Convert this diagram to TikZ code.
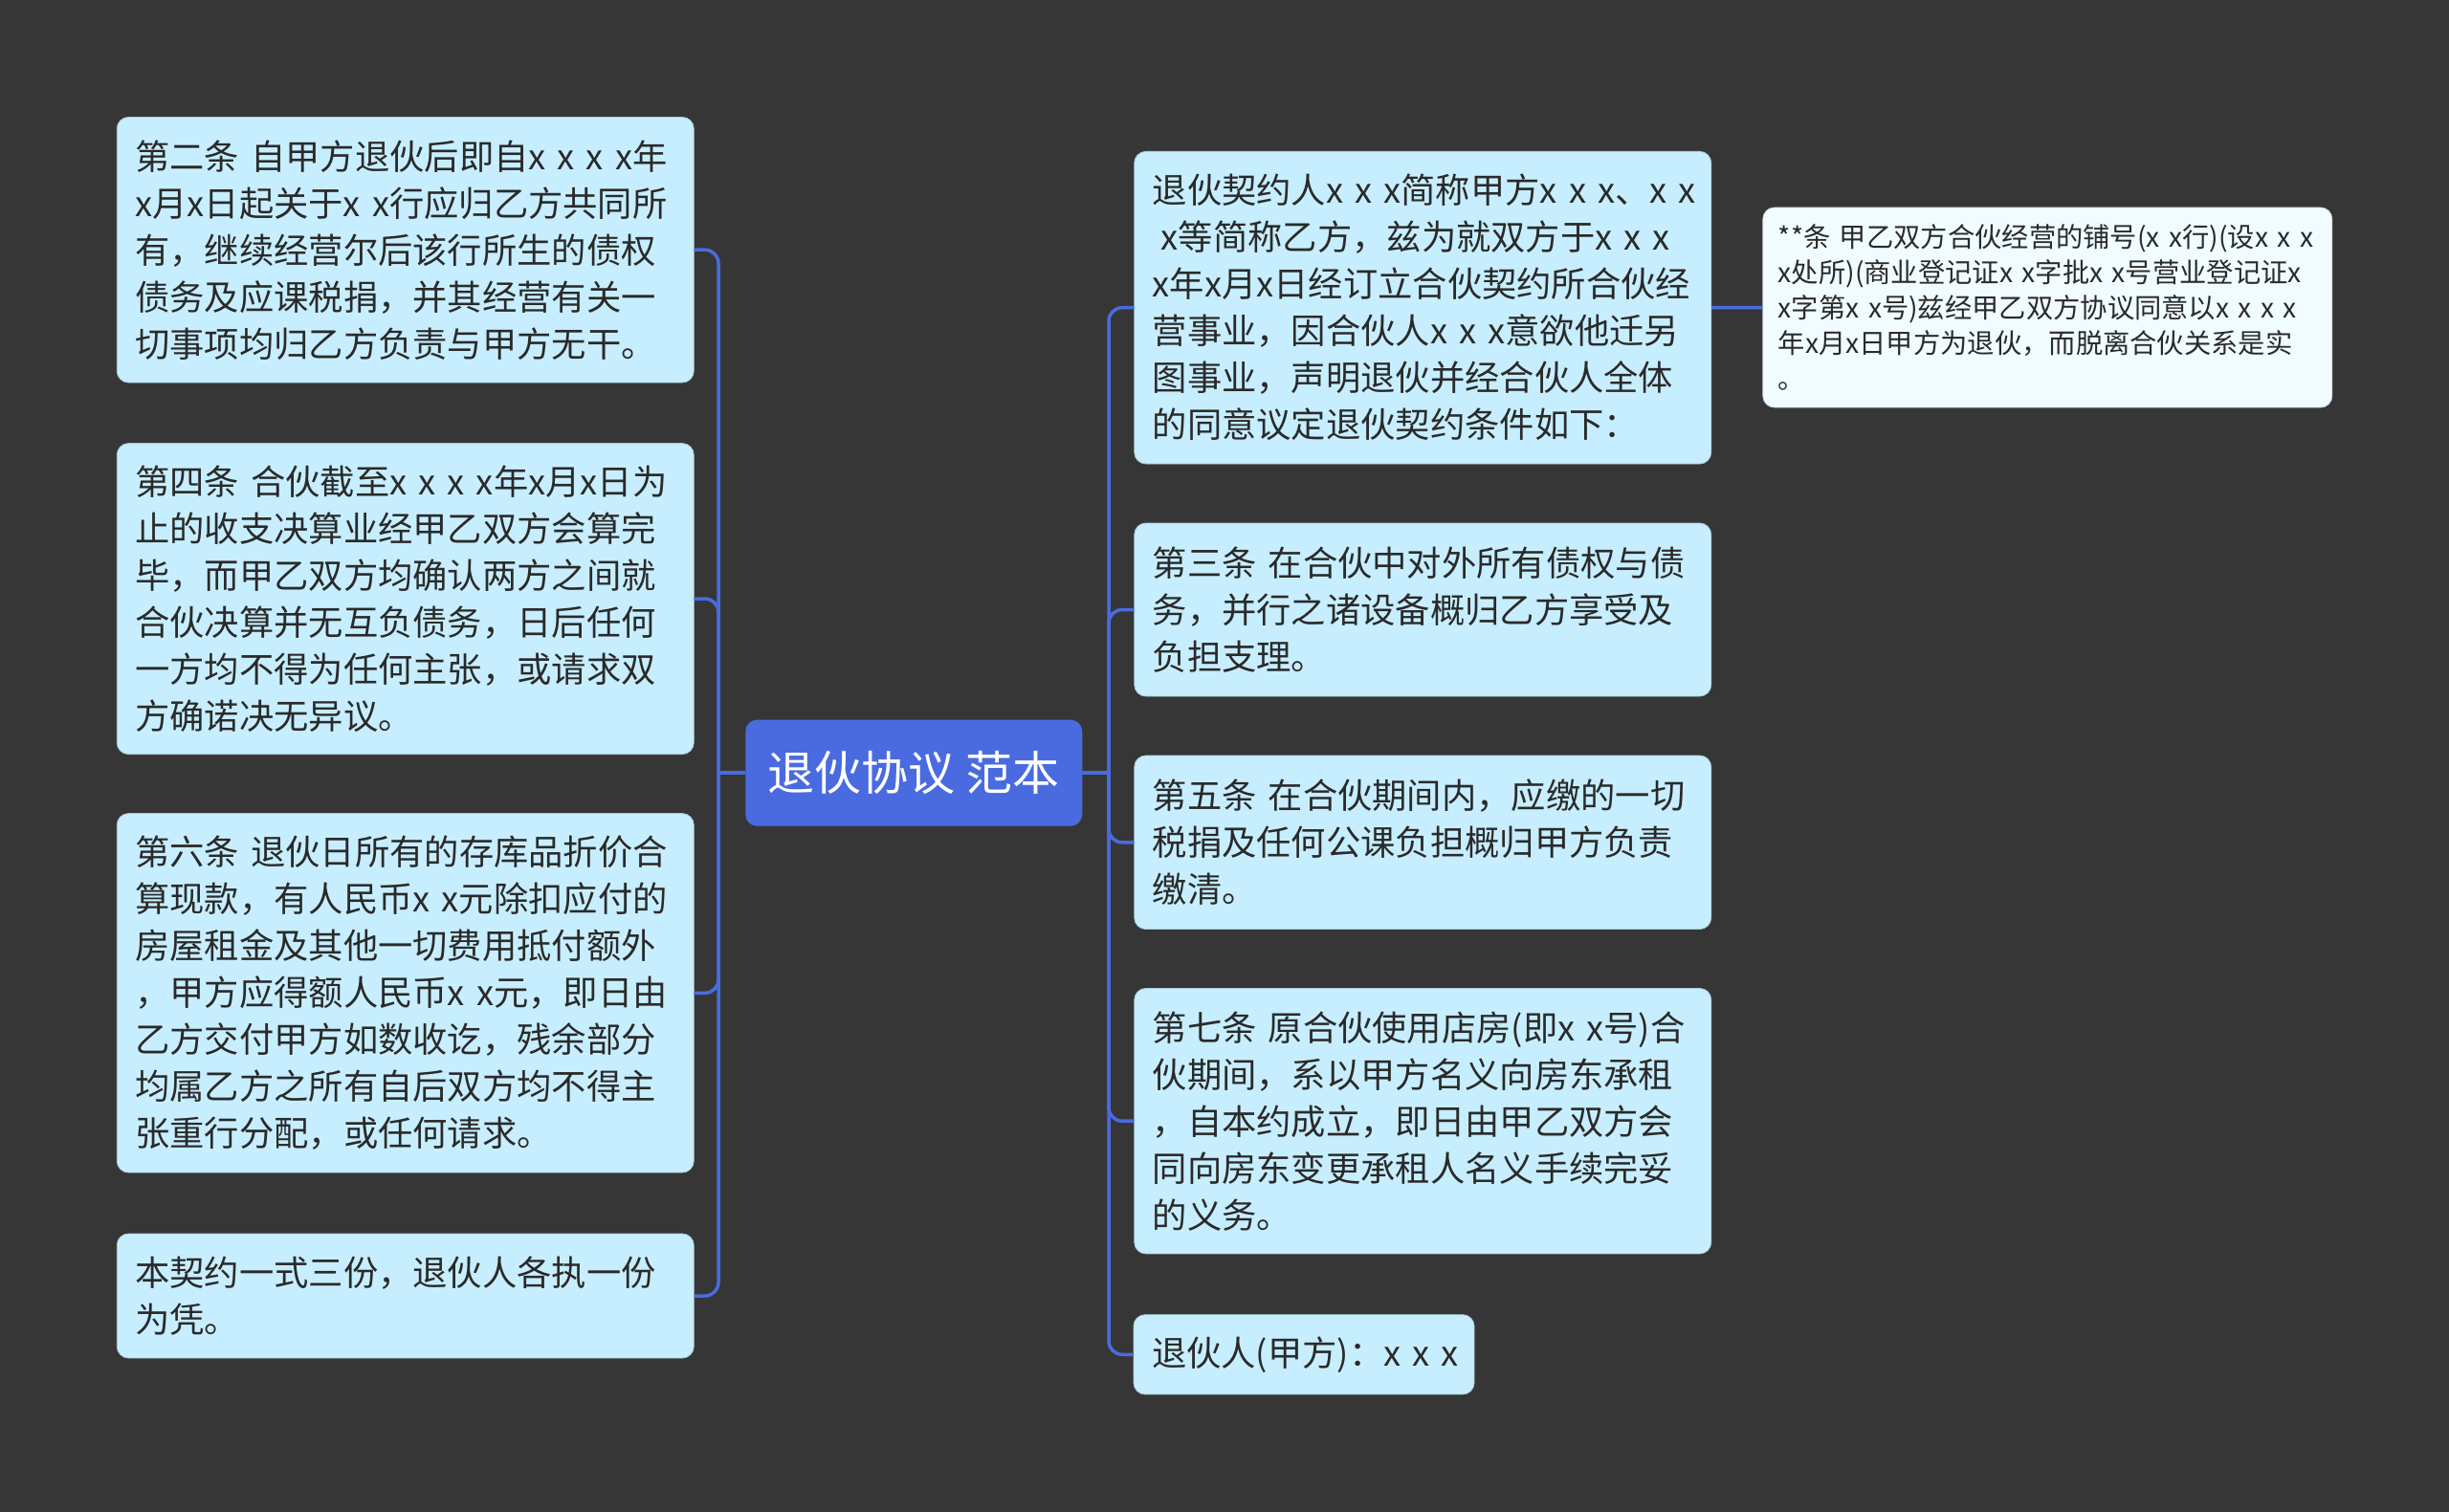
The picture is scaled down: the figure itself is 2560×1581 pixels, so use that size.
\documentclass[tikz,border=0pt]{standalone}
\usepackage{fontspec}
\setmainfont{Noto Sans CJK SC}
\definecolor{bg}{HTML}{363636}
\definecolor{boxc}{HTML}{C7EEFE}
\definecolor{boxl}{HTML}{F0FCFF}
\definecolor{mainc}{HTML}{4A6BDF}
\definecolor{txt}{HTML}{2A2A2A}
\begin{document}
\begin{tikzpicture}[x=1pt,y=-1pt,
  tbox/.style={fill=boxc, draw=boxc!85!black, line width=0.8pt, rounded corners=12pt,
    inner xsep=19pt, inner ysep=0pt, text width=565pt, align=left,
    font=\fontsize{36.3}{49}\selectfont, text=txt},
  lbox/.style={fill=boxl, draw=boxl!85!black, line width=0.8pt, rounded corners=12pt,
    inner xsep=16pt, inner ysep=0pt, text width=563pt, align=left,
    font=\fontsize{28.3}{37}\selectfont, text=txt},
  cbox/.style={fill=mainc, rounded corners=12pt, inner sep=0pt,
    font=\fontsize{49}{56}\selectfont, text=white},
  conn/.style={draw=mainc, line width=3.5pt, rounded corners=14pt}
]
\fill[bg] (0,0) rectangle (2560,1581);
\useasboundingbox (0,0) rectangle (2560,1581);

% centre
\node[cbox, minimum width=352pt, minimum height=111pt] (C) at (955.25,808.2) {退伙协议 范本};

% left
\node[tbox, minimum height=277.5pt] (L1) at (423.75,261.25) {第二条~自甲方退伙后即自x~x~x~x年\\
x月x日起关于x~x行应归乙方共同所\\
有，继续经营尔后该行所生的债权\\
债务及应课税捐，并其经营有关一\\
切事项均归乙方负责与甲方无干。};
\node[tbox, minimum height=325pt] (L2) at (423.75,626.1) {第四条~合伙截至x~x~x~x年x月x日为\\
止的收支决算业经甲乙双方会算完\\
毕，而甲乙双方均确认两方之间就\\
合伙决算并无互负债务，日后任何\\
一方均不得为任何主张，或请求双\\
方确诺决无异议。};
\node[tbox, minimum height=375.4pt] (L3) at (423.75,1038.3) {第六条~退伙日所有的存库品折价合\\
算现款，有人民币x~x元除扣应付的\\
房屋租金及其他一切费用抵付额外\\
，甲方应得额人民币x~x元，即日由\\
乙方交付甲方如数收讫，残余部分\\
均属乙方之所有自后双方均不得主\\
张重行分配，或任何请求。};
\node[tbox, minimum height=130pt] (L4) at (423.75,1355) {本契约一式三份，退伙人各执一份\\
为凭。};

% right
\node[tbox, minimum height=326.6pt] (R1) at (1487.25,321.7) {退伙契约人x~x~x简称甲方x~x~x、x~x\\
\hspace*{0.25em}x等简称乙方，兹为就双方于x~x~x\\
x年x月x日经订立合伙契约所合伙经\\
营事业，因合伙人x~x~x意欲他迁另\\
图事业，声明退伙并经合伙人全体\\
的同意议定退伙契约条件如下：};
\node[tbox, minimum height=181pt] (R2) at (1487.25,637.5) {第三条~在合伙中对外所有债权与债\\
务，并行之诸设备概归乙方享受及\\
负担支理。};
\node[tbox, minimum height=181.5pt] (R3) at (1487.25,880.8) {第五条~在合伙期间内，应缴的一切\\
税捐及任何公课负担概归甲方负责\\
缴清。};
\node[tbox, minimum height=277.5pt] (R4) at (1487.25,1172.2) {第七条~原合伙使用店房(即x~x号)合\\
伙期间，系以甲方名义向房东承租\\
，自本约成立，即日由甲乙双方会\\
同向房东变更承租人名义手续完妥\\
的义务。};
\node[tbox, text width=318pt, minimum height=83.3pt] (R5) at (1363,1416.3) {退伙人(甲方)：x~x~x};

\node[lbox, minimum height=209pt] (RR) at (2140.3,321.5) {**条~甲乙双方合伙经营的铺号(x~x行)(设x~x~x\\
x处所)(商业登记证x~x字批x~x号营业登记证x\\
x字第x~x号)兹经甲乙双方协议同意以x~x~x~x\\
年x月x日甲方为退伙，而脱离合伙关系是实\\
。};

% connectors
\coordinate (lb) at (751,808.2);
\coordinate (rb) at (1159,808.2);
\draw[conn] (C.west) -- (lb);
\draw[conn] (C.east) -- (rb);
\foreach \n in {L1,L2,L3,L4} \draw[conn] (\n.east) -| (lb);
\foreach \n in {R1,R2,R3,R4,R5} \draw[conn] (rb) |- (\n.west);
\draw[conn] (R1.east) -- (RR.west);
\end{tikzpicture}
\end{document}
